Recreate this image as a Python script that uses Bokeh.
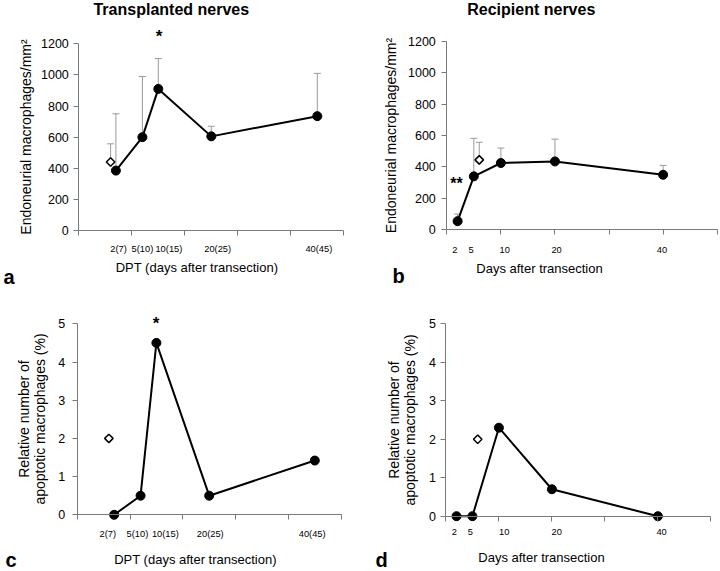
import numpy as np
from bokeh.plotting import figure
from bokeh.models import Range1d, FixedTicker, Whisker, TeeHead, ColumnDataSource, Label
from bokeh.layouts import row, column
from bokeh.embed import file_html
from bokeh.resources import INLINE

FONT = "Liberation Sans"
AXIS = "#7a7a7a"
ERR = "#9a9a9a"

# ---------------- data ----------------
transplant_labels = ["2(7)", "5(10)", "10(15)", "20(25)", "40(45)"]
recipient_labels = ["2", "5", "10", "20", "40"]

transplant_days = [7, 12, 15, 25, 45]
transplant_density = [385, 600, 910, 605, 735]
transplant_density_upper = [750, 990, 1105, 670, 1010]
transplant_apoptotic = [0, 0.5, 4.5, 0.5, 1.42]

recipient_days = [2, 5, 10, 20, 40]
recipient_density = [55, 340, 425, 435, 350]
recipient_density_upper = [100, 582, 520, 577, 410]
recipient_apoptotic = [0, 0, 2.3, 0.7, 0]

control_day = [6]
control_density_a = [440]
control_density_a_upper = [557]
control_density_b = [445]
control_density_b_upper = [557]
control_apoptotic = [2.0]

density_ticks = [0, 200, 400, 600, 800, 1000, 1200]
apoptotic_ticks = [0, 1, 2, 3, 4, 5]
day_grid = [0, 10, 20, 30, 40, 50]

# label positions along the day axis (layout)
label_pos_a = [7.5, 12, 17, 26.2, 45.3]
label_pos_b = [1.5, 4.5, 10.7, 20.3, 39.8]
label_pos_c = [5.8, 11.4, 16.7, 25.2, 44.5]
label_pos_d = [1.6, 4.6, 11, 20.9, 40.7]

DENS_TITLE = "Endoneurial macrophages/mm\u00b2"
APOP_TITLE = "Relative number of\napoptotic macrophages (%)"
DPT_TITLE = "DPT (days after transection)"
DAYS_TITLE = "Days after transection"

BASE_FIX = 7  # Label alphabetic-baseline correction (px)


class Geom:
    """Figure placed at page (fx, fy); data (xd, yd) axis ends sit at page pixels (xpx, ypx)."""
    def __init__(self, fig, xpx, ypx, xd, yd):
        self.fx, self.fy, self.fw, self.fh = fig
        self.xpx, self.ypx, self.xd, self.yd = xpx, ypx, xd, yd
        self.sx = (xpx[1] - xpx[0]) / (xd[1] - xd[0])
        self.sy = (ypx[0] - ypx[1]) / (yd[1] - yd[0])

    def data(self, px, py):
        return (self.xd[0] + (px - self.xpx[0]) / self.sx,
                self.yd[0] + (self.ypx[0] - py) / self.sy)

    def ranges(self):
        x0, y1 = self.data(self.fx, self.fy)
        x1, y0 = self.data(self.fx + self.fw, self.fy + self.fh)
        return Range1d(x0, x1), Range1d(y0, y1)


def make_panel(g, ticks, labels, label_pos, y_title, tick_std, ytick_std, ytitle_std):
    xr, yr = g.ranges()
    p = figure(width=g.fw, height=g.fh, x_range=xr, y_range=yr,
               output_backend="svg", toolbar_location=None,
               min_border_left=0, min_border_right=0,
               min_border_top=0, min_border_bottom=0)
    p.title.visible = False
    p.outline_line_color = None
    p.grid.visible = False
    p.background_fill_color = "white"
    p.border_fill_color = "white"

    xa = p.xaxis[0]
    xa.fixed_location = g.yd[0]
    xa.bounds = g.xd
    xa.ticker = FixedTicker(ticks=label_pos, minor_ticks=day_grid)
    xa.major_label_overrides = {float(k): v for k, v in zip(label_pos, labels)}
    xa.major_tick_out = 0
    xa.major_tick_in = 0
    xa.minor_tick_out = 5
    xa.minor_tick_in = 0
    xa.axis_line_color = AXIS
    xa.minor_tick_line_color = AXIS
    xa.major_label_text_font = FONT
    xa.major_label_text_font_size = "9.3px"
    xa.major_label_text_color = "black"
    xa.major_label_standoff = tick_std

    ya = p.yaxis[0]
    ya.fixed_location = g.xd[0]
    ya.bounds = g.yd
    ya.ticker = FixedTicker(ticks=ticks, minor_ticks=[])
    ya.major_tick_out = 5
    ya.major_tick_in = 0
    ya.minor_tick_out = 0
    ya.minor_tick_in = 0
    ya.axis_line_color = AXIS
    ya.major_tick_line_color = AXIS
    ya.major_label_text_font = FONT
    ya.major_label_text_font_size = "12.5px"
    ya.major_label_text_color = "black"
    ya.major_label_standoff = ytick_std
    ya.axis_label = y_title
    ya.axis_label_text_font = FONT
    ya.axis_label_text_font_size = "14px"
    ya.axis_label_text_font_style = "normal"
    ya.axis_label_text_color = "black"
    ya.axis_label_text_line_height = 1.0
    ya.axis_label_standoff = ytitle_std
    return p


def add_text(p, g, px, py, text, size, bold=False, align="center", baseline="alphabetic"):
    if baseline == "alphabetic":
        py = py - BASE_FIX
    x, y = g.data(px, py)
    p.add_layout(Label(x=x, y=y, text=text, text_font=FONT, text_font_size=size,
                       text_font_style="bold" if bold else "normal", text_color="black",
                       text_align=align, text_baseline=baseline))


def add_errors(p, xs, ys, ups):
    src = ColumnDataSource(dict(base=xs, lower=ys, upper=ups))
    p.add_layout(Whisker(source=src, base="base", lower="lower", upper="upper",
                         line_color=ERR, line_width=1,
                         upper_head=TeeHead(size=7, line_color=ERR, line_width=1),
                         lower_head=None))


def add_series(p, xs, ys, cx, cy):
    p.line(xs, ys, line_width=2, line_color="black")
    p.scatter(xs, ys, size=9, fill_color="black", line_color="black")
    p.scatter(cx, cy, marker="square", angle=np.pi / 4, size=6,
              fill_color="white", line_color="black", line_width=1.5)


# ---------------- geometry (page px) ----------------
ga = Geom((0, 0, 360, 290), (78.3, 343.3), (230.0, 43.3), (0, 50), (0, 1200))
gb = Geom((360, 0, 360, 290), (446.3, 716.7), (229.3, 40.7), (0, 50), (0, 1200))
gc = Geom((0, 290, 360, 281), (76.7, 340.7), (514.3, 323.3), (0, 50), (0, 5))
gd = Geom((360, 290, 360, 281), (445.4, 710.4), (515.7, 323.3), (0, 50), (0, 5))

# panel a
pa = make_panel(ga, density_ticks, transplant_labels, label_pos_a, DENS_TITLE, 8, 5, 4)
add_errors(pa, control_day, control_density_a, control_density_a_upper)
add_errors(pa, transplant_days, transplant_density, transplant_density_upper)
add_series(pa, transplant_days, transplant_density, control_day, control_density_a)
add_text(pa, ga, 173, 15.5, "Transplanted  nerves", "16px", bold=True)
add_text(pa, ga, 158.5, 43.3, "*", "17px", bold=True)
add_text(pa, ga, 196.5, 266.7, DPT_TITLE, "13px", baseline="middle")
add_text(pa, ga, 3, 283, "a", "20px", bold=True, align="left")

# panel b
pb = make_panel(gb, density_ticks, recipient_labels, label_pos_b, DENS_TITLE, 12, 6, 6)
add_errors(pb, control_day, control_density_b, control_density_b_upper)
add_errors(pb, recipient_days, recipient_density, recipient_density_upper)
add_series(pb, recipient_days, recipient_density, control_day, control_density_b)
add_text(pb, gb, 533, 15.5, "Recipient  nerves", "16px", bold=True)
add_text(pb, gb, 456, 190, "**", "16px", bold=True)
add_text(pb, gb, 539, 268.3, DAYS_TITLE, "13px", baseline="middle")
add_text(pb, gb, 392, 282, "b", "20px", bold=True, align="left")

# panel c
pc = make_panel(gc, apoptotic_ticks, transplant_labels, label_pos_c, APOP_TITLE, 9, 7, 8)
add_series(pc, transplant_days, transplant_apoptotic, control_day, control_apoptotic)
add_text(pc, gc, 155.5, 330, "*", "17px", bold=True)
add_text(pc, gc, 195, 559, DPT_TITLE, "13px", baseline="middle")
add_text(pc, gc, 5, 566, "c", "20px", bold=True, align="left")

# panel d
pd_ = make_panel(gd, apoptotic_ticks, recipient_labels, label_pos_d, APOP_TITLE, 8, 5, 8)
add_series(pd_, recipient_days, recipient_apoptotic, control_day, control_apoptotic)
add_text(pd_, gd, 541, 556.7, DAYS_TITLE, "13px", baseline="middle")
add_text(pd_, gd, 375, 566, "d", "20px", bold=True, align="left")

layout = column(row(pa, pb), row(pc, pd_))

with open("out.html", "w") as f:
    f.write(file_html(layout, INLINE))
